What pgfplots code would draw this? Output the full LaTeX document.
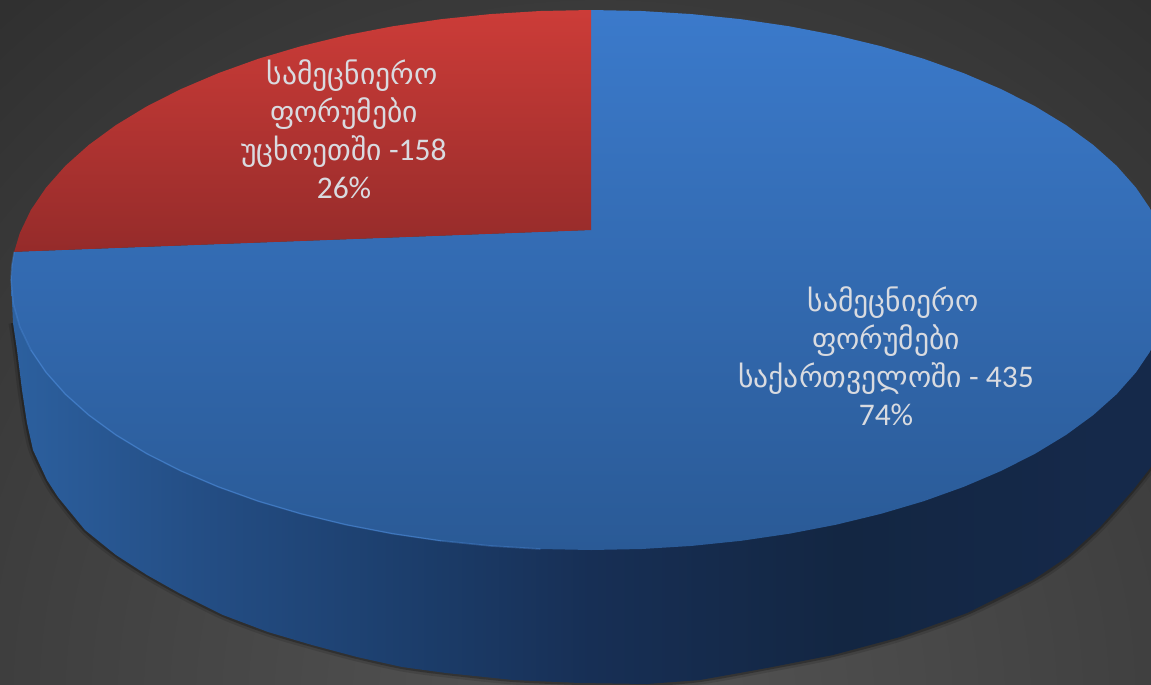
\documentclass[border=0pt]{standalone}
\usepackage{fontspec}
\setmainfont{Carlito}
\newfontfamily\geo[Scale=0.94]{DejaVu Sans}
\usepackage{pgfplots}
\pgfplotsset{compat=1.18}
\definecolor{lab}{HTML}{D9DBE0}
\definecolor{bg0}{HTML}{555555}\definecolor{bg1}{HTML}{3E3E3E}\definecolor{bg2}{HTML}{2C2C2C}
\definecolor{w0}{HTML}{2C609F}\definecolor{w1}{HTML}{244E85}\definecolor{w2}{HTML}{1C3E6C}
\definecolor{w3}{HTML}{172F55}\definecolor{w4}{HTML}{132642}\definecolor{w5}{HTML}{15294A}
\definecolor{blue0}{HTML}{3B7ACB}\definecolor{blue1}{HTML}{2A5A96}
\definecolor{red0}{HTML}{CC3C38}\definecolor{red1}{HTML}{952B2A}
\definecolor{rim}{HTML}{4C8AD8}
\pgfdeclareradialshading{bgshade}{\pgfpointorigin}{
  color(0bp)=(bg0);color(15bp)=(bg1);color(25bp)=(bg2);color(50bp)=(bg2)}
\pgfdeclarehorizontalshading{wallshade}{100bp}{
  color(0bp)=(w0);color(25bp)=(w0);color(33bp)=(w1);color(42bp)=(w2);color(50bp)=(w3);color(61bp)=(w4);color(72bp)=(w5);color(100bp)=(w5)}
\begin{document}
\begin{tikzpicture}
\begin{axis}[
  scale only axis,width=1151pt,height=685pt,
  xmin=0,xmax=1151,ymin=0,ymax=685,y dir=reverse,
  axis lines=none,
  every axis plot/.append style={mark=none},
]
% background
\addplot[shading=bgshade,draw=none] coordinates {(-400,-300)(1600,-300)(1600,1700)(-400,1700)(-400,-300)};
% soft shadow under the wall
\addplot[draw=black,opacity=0.12,line width=9pt,smooth] coordinates {
(13,323)(17,350)(22,390)(27,423)(33,450)(47,480)(58,497)(85,530)(116,555)(147,575)(179,593)(223,615)(268,632)(312,645)(357,657)(402,667)(446,673)(513,680)(580,683)(647,684)(700,680)(767,668)(833,655)(900,637)(967,613)(1033,580)(1067,557)(1100,527)(1133,490)(1151,467)(1175,430)};
\addplot[draw=black,opacity=0.25,line width=4pt,smooth] coordinates {
(13,323)(17,350)(22,390)(27,423)(33,450)(47,480)(58,497)(85,530)(116,555)(147,575)(179,593)(223,615)(268,632)(312,645)(357,657)(402,667)(446,673)(513,680)(580,683)(647,684)(700,680)(767,668)(833,655)(900,637)(967,613)(1033,580)(1067,557)(1100,527)(1133,490)(1151,467)(1175,430)};
% wall
\addplot[shading=wallshade,draw=none] coordinates {
(11,280)(13,323)(17,350)(22,390)(27,423)(33,450)(47,480)(58,497)(85,530)(116,555)(147,575)(179,593)(223,615)(268,632)(312,645)(357,657)(402,667)(446,673)(513,680)(580,683)(647,684)(700,680)(767,668)(833,655)(900,637)(967,613)(1033,580)(1067,557)(1100,527)(1133,490)(1151,467)(1171,435)(1171,280)(11,280)};
% blue slice: 435 (74%)
\addplot[top color=blue0,bottom color=blue1,draw=none] coordinates {
(591,230)(591,10)(641.6,11)(691.7,14.1)(741.1,19.2)(789.4,26.3)(836.1,35.3)(881,46.2)(923.7,58.8)(963.8,73.2)(1001.1,89.1)(1035.3,106.4)(1066.1,125.1)(1093.3,145)(1116.7,165.9)(1136,187.7)(1151.2,210.1)(1162.2,233.1)(1168.8,256.5)(1171,280)(1168.8,303.5)(1162.2,326.9)(1151.2,349.9)(1136,372.3)(1116.7,394.1)(1093.3,415)(1066.1,434.9)(1035.3,453.6)(1001.1,470.9)(963.8,486.8)(923.7,501.2)(881,513.8)(836.1,524.7)(789.4,533.7)(741.1,540.8)(691.7,545.9)(641.6,549)(591,550)(540.4,549)(490.3,545.9)(440.9,540.8)(392.6,533.7)(345.9,524.7)(301,513.8)(258.3,501.2)(218.2,486.8)(180.9,470.9)(146.7,453.6)(115.9,434.9)(88.7,415)(65.3,394.1)(46,372.3)(30.8,349.9)(19.8,326.9)(13.2,303.5)(11,280)(11.8,265.9)(14.2,251.8)(591,230)};
% rim highlight
\addplot[draw=rim,line width=1.6pt,opacity=0.35] coordinates {
(540.4,549)(490.3,545.9)(440.9,540.8)(392.6,533.7)(345.9,524.7)(301,513.8)(258.3,501.2)(218.2,486.8)(180.9,470.9)(146.7,453.6)(115.9,434.9)(88.7,415)(65.3,394.1)(46,372.3)(30.8,349.9)(19.8,326.9)(13.2,303.5)(11,280)(11.8,265.9)(14.2,251.8)};
\addplot[draw=rim,line width=0.7pt,opacity=0.6] coordinates {
(440.9,540.8)(392.6,533.7)(345.9,524.7)(301,513.8)(258.3,501.2)(218.2,486.8)(180.9,470.9)(146.7,453.6)(115.9,434.9)(88.7,415)(65.3,394.1)(46,372.3)(30.8,349.9)};
% red slice: 158 (26%)
\addplot[top color=red0,bottom color=red1,draw=none] coordinates {
(591,230)(14.2,251.8)(19.8,233.1)(30.8,210.1)(46,187.7)(65.3,165.9)(88.7,145)(115.9,125.1)(146.7,106.4)(180.9,89.1)(218.2,73.2)(258.3,58.8)(301,46.2)(345.9,35.3)(392.6,26.3)(440.9,19.2)(490.3,14.1)(540.4,11)(591,10)(591,230)};
% labels
\node[align=center,text=lab,font=\fontsize{31.5}{38}\selectfont] at (axis cs:344,129) {\hspace*{16pt}{\geo სამეცნიერო}\\{\geo ფორუმები}\\{\geo უცხოეთში} -158\\26\%};
\node[align=center,text=lab,font=\fontsize{31.5}{38}\selectfont] at (axis cs:886,356) {\hspace*{14pt}{\geo სამეცნიერო}\\{\geo ფორუმები}\\{\geo საქართველოში} - 435\\74\%};
\end{axis}
\end{tikzpicture}
\end{document}
